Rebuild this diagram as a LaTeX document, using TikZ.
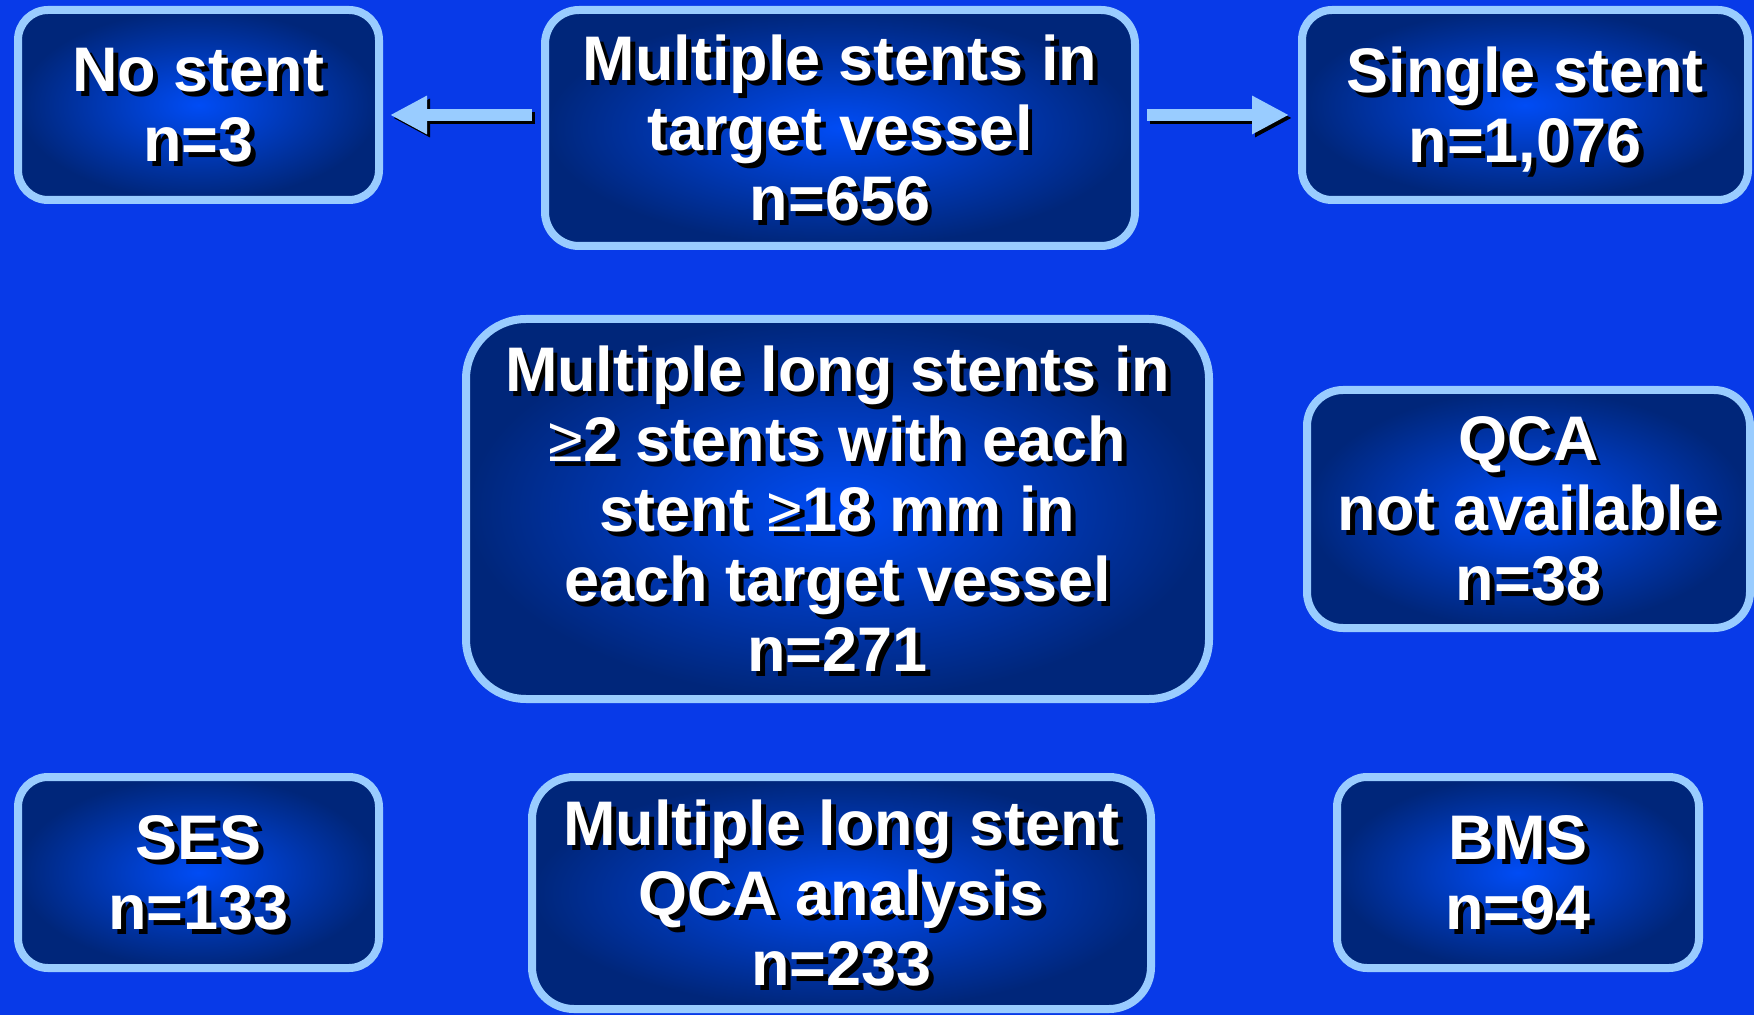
\documentclass[tikz,border=0pt]{standalone}
\usepackage{fontspec}
\setmainfont{Liberation Sans}
\usetikzlibrary{arrows.meta}

\definecolor{slide}{RGB}{8,58,232}
\definecolor{rim}{RGB}{153,204,255}
\definecolor{boxin}{RGB}{0,76,245}
\definecolor{boxout}{RGB}{0,38,122}

% white text with a black drop shadow
\newcommand\shd[1]{\rlap{\kern2.4pt\raisebox{-2.4pt}{\color{black}#1}}#1}
\newcommand\atleast{{\mdseries ≥}}

\tikzstyle{stage}=[draw=rim, line width=4pt, inner sep=0pt, inner color=boxin, outer color=boxout,
    text=white, align=center, text depth=0pt,
    font=\fontsize{31.5}{35}\selectfont\bfseries]
\tikzstyle{flow}=[rim, line width=6pt, -{Triangle[length=18.5pt,width=18pt]}]
\tikzstyle{flowshadow}=[black, line width=6pt, -{Triangle[length=18.5pt,width=18pt]},
    transform canvas={xshift=1.5pt,yshift=-1.5pt}]

\begin{document}
\begin{tikzpicture}[x=0.5pt, y=-0.5pt]
% Slide
    \fill[slide] (0,0) rectangle (1754,1015);
    \useasboundingbox (0,0) rectangle (1754,1015);
% Top row
    \node[stage, rounded corners=15pt, minimum width=180.5pt, minimum height=95pt] (nostent) at (198.5,105)
        {\shd{No stent}\\\shd{n=3}};
    \node[stage, rounded corners=17pt, minimum width=295pt, minimum height=118pt] (multi) at (840,128)
        {\shd{Multiple stents in}\\\shd{target vessel}\\\shd{n=656}};
    \node[stage, rounded corners=15pt, minimum width=223pt, minimum height=95pt] (single) at (1525,105)
        {\shd{Single stent}\\\shd{n=1,076}};
% Middle row
    \node[stage, rounded corners=30pt, minimum width=371.5pt, minimum height=190pt] (long) at (837.5,509)
        {\shd{Multiple long stents in}\\\shd{\atleast2 stents with each}\\\shd{stent \atleast18 mm in}\\
         \shd{each target vessel}\\\shd{n=271}};
    \node[stage, rounded corners=18pt, minimum width=221.5pt, minimum height=119pt] (noqca) at (1528.5,509)
        {\shd{QCA}\\\shd{not available}\\\shd{n=38}};
% Bottom row
    \node[stage, rounded corners=15pt, minimum width=180.5pt, minimum height=95.5pt] (ses) at (198.5,872.5)
        {\shd{SES}\\\shd{n=133}};
    \node[stage, rounded corners=21pt, minimum width=309.5pt, minimum height=116pt] (analysis) at (841.5,893)
        {\shd{Multiple long stent}\\\shd{QCA analysis}\\\shd{n=233}};
    \node[stage, rounded corners=15pt, minimum width=181pt, minimum height=95.5pt] (bms) at (1518,872.5)
        {\shd{BMS}\\\shd{n=94}};
% Arrows
    \draw[flowshadow, shorten <=4.5pt, shorten >=3.5pt] ([yshift=-5pt]nostent.east -| multi.west) -- ([yshift=-5pt]nostent.east);
    \draw[flow, shorten <=4.5pt, shorten >=3.5pt] ([yshift=-5pt]nostent.east -| multi.west) -- ([yshift=-5pt]nostent.east);
    \draw[flowshadow, shorten <=4pt, shorten >=4.5pt] ([yshift=-5pt]single.west -| multi.east) -- ([yshift=-5pt]single.west);
    \draw[flow, shorten <=4pt, shorten >=4.5pt] ([yshift=-5pt]single.west -| multi.east) -- ([yshift=-5pt]single.west);
\end{tikzpicture}
\end{document}
